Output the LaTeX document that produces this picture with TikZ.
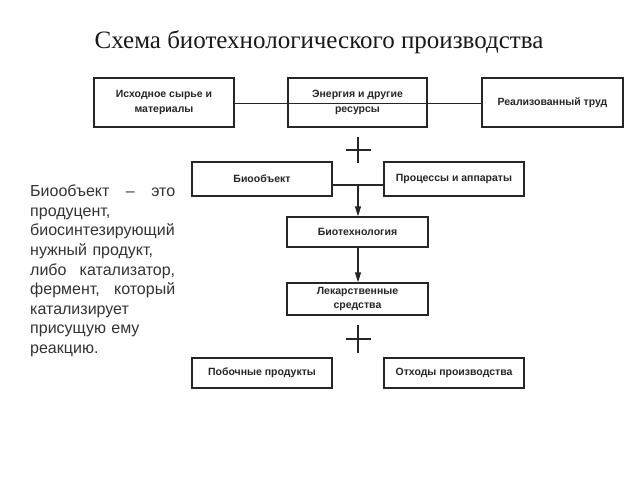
\documentclass[tikz,border=0pt]{standalone}
\usepackage{fontspec}
\setmainfont{Liberation Serif}
\setsansfont{Liberation Sans}
\usetikzlibrary{arrows.meta}
\newcommand{\jline}[1]{\leavevmode\hbox to 145bp{#1}}
\tikzset{
  box/.style={draw=black!85, line width=1.3bp, fill=white, inner sep=1bp,
    font=\sffamily\bfseries\fontsize{10.5bp}{14.5bp}\selectfont, align=center, text=black!85},
  conn/.style={draw=black!85, line width=1.1bp},
  arr/.style={conn, -{Triangle[length=10bp,width=6bp]}},
}
\begin{document}
\begin{tikzpicture}[x=1bp,y=-1bp]
\useasboundingbox (0,0) rectangle (640,480);
\node[font=\fontsize{25bp}{28bp}\selectfont, anchor=base, text=black!90] (title) at (319,49) {Схема биотехнологического производства};
% top row
\node[box, minimum width=140bp, minimum height=49bp] (raw) at (164,102.5) {Исходное сырье и\\материалы};
\node[box, minimum width=141bp, minimum height=49bp] (labor) at (552.5,102.5) {Реализованный труд};
\draw[conn] (raw.east |- 0,103.8) -- (labor.west |- 0,103.8);
\node[box, minimum width=139bp, minimum height=49bp, fill=none] (energy) at (357.5,102.5) {Энергия и другие\\ресурсы};
% plus 1
\coordinate (p1) at (358,150);
\draw[conn] ([xshift=-12.5bp]p1) -- ([xshift=12.5bp]p1) ([yshift=-13bp]p1) -- ([yshift=13bp]p1);
% second row
\node[box, minimum width=140bp, minimum height=34bp] (bio) at (262,179) {Биообъект};
\node[box, minimum width=140bp, minimum height=34bp] (proc) at (454,179) {Процессы и аппараты};
\node[box, minimum width=141bp, minimum height=30bp] (biotech) at (357.5,232) {Биотехнология};
\node[box, minimum width=141bp, minimum height=32bp] (drugs) at (357.5,299) {Лекарственные\\средства};
\coordinate (j) at (358,185);
\draw[conn] (bio.east |- j) -- (proc.west |- j);
\draw[arr] (j) -- (j |- biotech.north);
\draw[arr] (j |- biotech.south) -- (j |- drugs.north);
% plus 2
\coordinate (p2) at (358,339);
\draw[conn] ([xshift=-12.5bp]p2) -- ([xshift=12.5bp]p2) ([yshift=-14bp]p2) -- ([yshift=14bp]p2);
% bottom row
\node[box, minimum width=140bp, minimum height=30bp] (byprod) at (262,373) {Побочные продукты};
\node[box, minimum width=140bp, minimum height=30bp] (waste) at (454,373) {Отходы производства};
% text block
\node[anchor=base west, inner sep=0pt, text width=145bp, align=left, text=black!80,
  font=\sffamily\fontsize{16bp}{19.5bp}\selectfont] (desc) at (30,197)
  {\jline{Биообъект\hfill –\hfill это}\\
   продуцент,\\
   биосинтезирующий\\
   нужный продукт,\\
   \jline{либо\hfill катализатор,}\\
   \jline{фермент,\hfill который}\\
   катализирует\\
   присущую ему\\
   реакцию.};
\end{tikzpicture}
\end{document}
